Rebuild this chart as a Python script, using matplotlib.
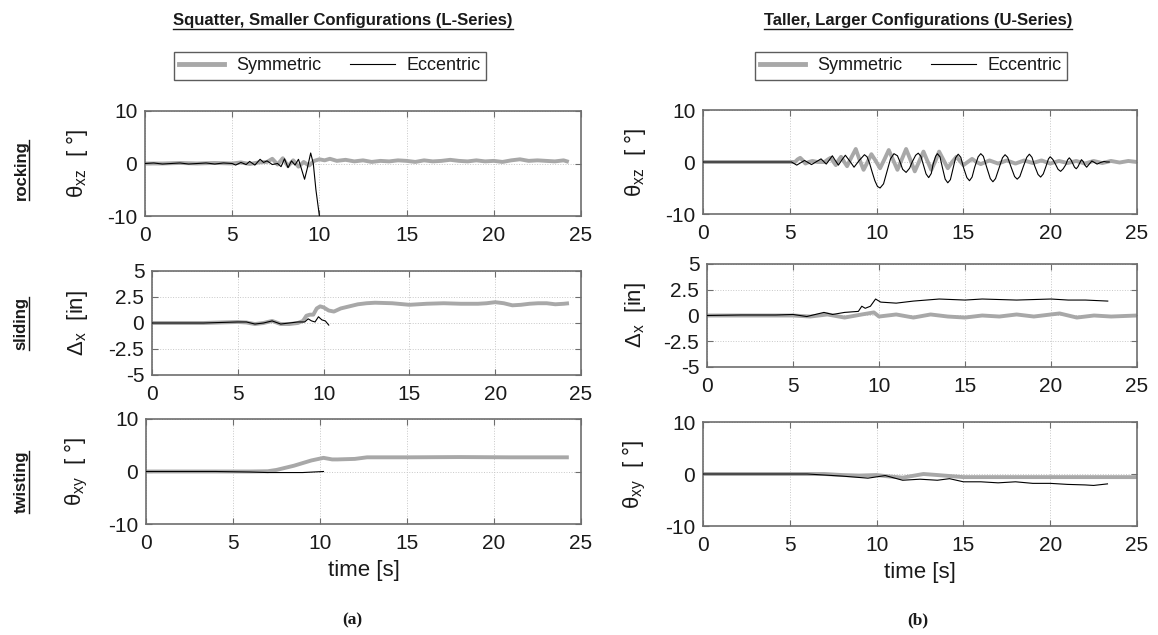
import matplotlib
matplotlib.use("Agg")
import matplotlib.pyplot as plt
from matplotlib.lines import Line2D

W, H = 1158, 635
plt.rcParams['font.family'] = ['Liberation Sans', 'DejaVu Sans']
plt.rcParams['mathtext.fontset'] = 'custom'
plt.rcParams['mathtext.rm'] = 'Liberation Sans'
plt.rcParams['mathtext.it'] = 'Liberation Sans:italic'
plt.rcParams['axes.unicode_minus'] = False

# ---------------- data ----------------
# Left column (L-Series), rocking
L_rock_sym_t = [0, 1, 2, 3, 4, 5, 5.5, 6, 6.5, 7, 7.3, 7.6, 7.9, 8.2, 8.5, 8.8, 9.1, 9.4, 9.7, 10.0,
                10.3, 10.6, 11, 11.5, 12, 12.5, 13, 13.5, 14, 14.5, 15, 15.5, 16, 16.5, 17, 17.5, 18,
                18.5, 19, 19.5, 20, 20.5, 21, 21.5, 22, 22.5, 23, 23.5, 24, 24.3]
L_rock_sym_v = [0, 0, 0.1, 0, 0.1, 0, 0.2, -0.1, 0.2, 0.3, 0.9, -0.2, 1.0, -0.5, 0.6, -0.6, 0.3, -0.4,
                0.5, 0.8, 0.6, 0.9, 0.5, 0.7, 0.4, 0.6, 0.3, 0.5, 0.4, 0.6, 0.5, 0.3, 0.6, 0.4, 0.5,
                0.7, 0.5, 0.4, 0.6, 0.4, 0.5, 0.3, 0.6, 0.8, 0.5, 0.6, 0.5, 0.4, 0.6, 0.3]
L_rock_ecc_t = [0, 0.5, 1, 1.5, 2, 2.5, 3, 3.5, 4, 4.5, 5, 5.2, 5.5, 5.8, 6.0, 6.3, 6.6, 6.8, 7.0, 7.3,
                7.6, 7.8, 8.0, 8.2, 8.4, 8.6, 8.8, 8.95, 9.15, 9.3, 9.5, 9.65, 9.8, 10.0, 10.1]
L_rock_ecc_v = [0, 0.1, -0.1, 0, 0.1, -0.1, 0, 0.1, -0.1, 0.1, 0, -0.3, 0.2, -0.2, 0.4, -0.3, 0.8, 0.2,
                0.5, -0.2, 0, -0.6, 0.9, -0.8, 0.5, -0.3, 0.8, -0.8, -3.0, -1.0, 2.0, 0.0, -5.0, -10.0, -11.0]

# Left column, sliding
L_slide_sym_t = [0, 1, 2, 3, 4, 5, 5.5, 6, 6.5, 7, 7.5, 8, 8.5, 8.8, 9.0, 9.2, 9.4, 9.6, 9.8, 10,
                 10.3, 10.6, 11, 11.5, 12, 12.5, 13, 14, 15, 15.5, 16, 17, 18, 19, 19.5, 20, 20.5,
                 21, 21.5, 22, 22.5, 23, 23.5, 24, 24.3]
L_slide_sym_v = [0, 0, 0, 0, 0.05, 0.1, 0.05, -0.1, 0, 0.2, -0.1, -0.1, 0, 0.2, 0.7, 0.8, 0.8, 1.4,
                 1.6, 1.5, 1.2, 1.1, 1.4, 1.6, 1.8, 1.9, 1.95, 1.9, 1.75, 1.8, 1.85, 1.9, 1.85, 1.85,
                 1.9, 2.0, 1.9, 1.7, 1.75, 1.85, 1.9, 1.9, 1.8, 1.85, 1.9]
L_slide_ecc_t = [0, 1, 2, 3, 4, 5, 5.5, 6, 6.5, 7, 7.5, 8, 8.5, 8.9, 9.1, 9.3, 9.5, 9.7, 9.9, 10.1, 10.3]
L_slide_ecc_v = [0, 0, 0, 0, 0.05, 0.1, 0.1, -0.1, 0, 0.2, -0.1, 0, 0.1, 0.1, 0.4, 0.2, 0.1, 0.6, 0.3, 0.2, -0.2]

# Left column, twisting
L_twist_sym_t = [0, 2, 4, 6, 7, 7.5, 8, 8.5, 9, 9.5, 10.2, 10.7, 11, 12, 12.7, 15, 18, 21, 24.3]
L_twist_sym_v = [0, 0, 0, 0, 0.05, 0.3, 0.7, 1.1, 1.6, 2.1, 2.6, 2.3, 2.3, 2.4, 2.7, 2.7, 2.75, 2.7, 2.7]
L_twist_ecc_t = [0, 2, 4, 6, 7, 8, 9, 10.2]
L_twist_ecc_v = [0, 0, 0, -0.1, -0.2, -0.2, -0.2, 0]

# Right column (U-Series), rocking
U_rock_sym_t = [0, 2, 4, 5.3, 5.45, 5.6, 5.75, 5.9, 6.1, 6.3, 6.6, 7.0, 7.2, 7.35, 7.5, 7.65, 7.8,
                7.95, 8.1, 8.3, 8.55, 8.8, 9.0, 9.25, 9.45, 9.7, 9.95, 10.2, 10.45, 10.7, 10.95,
                11.2, 11.45, 11.7, 11.95, 12.2, 12.45, 12.7, 12.9, 13.15, 13.4, 13.6, 13.85, 14.1,
                14.35, 14.6, 14.8, 15.0, 15.25, 15.5, 15.75, 16.0, 16.5, 17.0, 17.5, 18.0, 18.5,
                19.0, 19.5, 20.0, 20.5, 21.0, 21.5, 22.0, 22.5, 23.0, 23.5, 24.0, 24.5, 25.0]
U_rock_sym_v = [0, 0, 0, 0, 0.5, 0.8, 0.3, -0.3, 0, 0.2, 0, 0, 0.5, 0.8, 0.1, -0.6, 0.3,
                1.0, 0.2, -0.8, 0.9, 2.5, 0.6, -1.5, -0.2, 1.5, 0.2, -1.2, 0.5, 2.3, 0.4,
                -1.5, 0.5, 2.5, 0.4, -1.8, 0.1, 2.0, 0.4, -1.5, 0.3, 2.0, 0.4, -1.2,
                0, 1.0, 0.2, -0.6, 0, 0.6, 0, -0.4, 0.3, -0.3, 0.3, -0.3, 0.3,
                -0.2, 0.3, -0.3, 0.2, -0.2, 0.2, -0.3, 0.2, -0.2, 0.2, -0.1, 0.2, 0]
U_rock_ecc_t = [0, 2, 4, 5.1, 5.25, 5.4, 5.6, 5.85, 6.05, 6.25, 6.5, 6.8, 6.95, 7.1, 7.28, 7.45,
                7.62, 7.8, 8.0, 8.2, 8.45, 8.7, 9.0, 9.3, 9.45, 9.6, 9.75, 9.9, 10.05, 10.2, 10.4,
                10.6, 10.8, 11.0, 11.2, 11.35, 11.5, 11.7, 11.9, 12.05, 12.25, 12.4, 12.55, 12.7,
                12.85, 13.0, 13.15, 13.25, 13.4, 13.5, 13.65, 13.8, 13.95, 14.1, 14.25, 14.4,
                14.55, 14.7, 14.85, 15.0, 15.2, 15.35, 15.5, 15.65, 15.85, 16.0, 16.15, 16.35,
                16.55, 16.7, 16.85, 17.05, 17.25, 17.4, 17.55, 17.75, 17.95, 18.1, 18.25, 18.45,
                18.65, 18.8, 18.95, 19.1, 19.3, 19.45, 19.6, 19.75, 19.9, 20.0, 20.15, 20.3,
                20.45, 20.6, 20.75, 20.9, 21.0, 21.1, 21.2, 21.3, 21.4, 21.5, 21.6, 21.7, 21.8,
                21.9, 22.0, 22.1, 22.25, 22.4, 22.55, 22.7, 22.9, 23.1, 23.25, 23.4]
U_rock_ecc_v = [0, 0, 0, 0, -0.3, -0.6, -0.2, 0.3, -0.1, -0.5, 0.0, 0.6, 0.1, -0.4, 0.4, 1.2,
                0.3, -0.6, 0.4, 1.3, 0.2, -1.0, 0.3, 1.4, 1.0, -0.3, -2.0, -3.6, -4.7, -5.0, -4.2,
                -1.8, 0.6, 1.6, 1.2, 0.0, -1.4, -2.0, -1.2, 0.0, 1.3, 1.7, 1.1, -0.6,
                -2.3, -3.0, -2.2, -0.5, 1.1, 1.6, 1.0, -1.2, -3.3, -4.0, -3.4, -1.3,
                0.8, 1.5, 0.9, -1.0, -3.0, -3.6, -2.9, -1.0, 1.0, 1.6, 1.1, -1.1,
                -3.2, -3.8, -3.2, -1.2, 0.8, 1.4, 0.9, -1.0, -2.8, -3.3, -2.8, -0.9,
                0.9, 1.5, 0.9, -0.7, -2.4, -2.9, -2.3, -0.9, 0.6, 1.0, 0.5, -0.4,
                -1.4, -1.8, -1.3, -0.5, 0.4, 0.8, 0.4, -0.3, -1.0, -1.3, -0.9, -0.2, 0.45,
                0.1, -0.6, -1.0, -0.4, 0.2, -0.1, -0.4, -0.1, 0.1, 0.0, 0.0]

# Right column, sliding
U_slide_sym_t = [0, 2, 4, 5, 6, 7, 8, 9, 9.7, 10, 11, 12, 13, 14, 15, 16, 17, 18, 19, 20, 20.5, 21.5,
                 22.5, 23.5, 25]
U_slide_sym_v = [0, 0, 0, 0, -0.1, 0.1, -0.2, 0.1, 0.3, -0.1, 0.1, -0.2, 0.1, -0.1, -0.2, 0, -0.1,
                 0.1, -0.1, 0.1, 0.2, -0.2, 0, -0.1, 0]
U_slide_ecc_t = [0, 2, 4, 5, 5.8, 6.8, 7.3, 8, 8.8, 9.0, 9.2, 9.5, 9.8, 10.1, 11, 12, 13.5, 15, 16,
                 18, 20, 21, 22, 23.3]
U_slide_ecc_v = [0, 0.05, 0.05, 0.1, -0.1, 0.3, 0.1, 0.3, 0.4, 0.9, 0.7, 0.9, 1.6, 1.3, 1.2, 1.4,
                 1.6, 1.5, 1.6, 1.5, 1.6, 1.5, 1.5, 1.4]

# Right column, twisting
U_twist_sym_t = [0, 2, 4, 6, 7, 8, 9, 10, 10.5, 11.5, 12.7, 13.5, 15, 20, 25]
U_twist_sym_v = [0, 0, 0, 0, 0, -0.2, -0.3, -0.2, -0.4, -0.7, 0, -0.2, -0.6, -0.6, -0.6]
U_twist_ecc_t = [0, 2, 4, 6, 8, 9.5, 10.5, 11.5, 12.5, 13.5, 14.2, 15, 16, 17, 18, 19, 20, 21, 22,
                 22.5, 23.3]
U_twist_ecc_v = [0, 0, 0, 0, -0.4, -0.8, -0.3, -1.2, -1.0, -1.2, -0.9, -1.5, -1.5, -1.7, -1.5, -1.8,
                 -1.8, -2.0, -2.1, -2.2, -1.9]

x_ticks = [0, 5, 10, 15, 20, 25]
angle_ticks = [-10, 0, 10]
slide_ticks = [-5, -2.5, 0, 2.5, 5]
slide_ticklabels = ['-5', '-2.5', '0', '2.5', '5']
series_labels = ['Symmetric', 'Eccentric']
row_labels = ['rocking', 'sliding', 'twisting']
col_titles = ['Squatter, Smaller Configurations (L-Series)', 'Taller, Larger Configurations (U-Series)']
captions = ['(a)', '(b)']

# ---------------- layout (pixels) ----------------
def px_axes(fig, x0, y0, x1, y1):
    return fig.add_axes([x0 / W, 1 - y1 / H, (x1 - x0) / W, (y1 - y0) / H])

fig = plt.figure(figsize=(W / 100, H / 100), dpi=100)
fig.patch.set_facecolor('white')

boxes = {
    ('L', 0): (145, 111, 581, 216),
    ('L', 1): (152, 271, 581, 375),
    ('L', 2): (146, 419, 581, 524),
    ('U', 0): (703, 110, 1137, 214),
    ('U', 1): (707, 264, 1137, 367),
    ('U', 2): (703, 422, 1137, 526),
}

data = {
    ('L', 0): (L_rock_sym_t, L_rock_sym_v, L_rock_ecc_t, L_rock_ecc_v),
    ('L', 1): (L_slide_sym_t, L_slide_sym_v, L_slide_ecc_t, L_slide_ecc_v),
    ('L', 2): (L_twist_sym_t, L_twist_sym_v, L_twist_ecc_t, L_twist_ecc_v),
    ('U', 0): (U_rock_sym_t, U_rock_sym_v, U_rock_ecc_t, U_rock_ecc_v),
    ('U', 1): (U_slide_sym_t, U_slide_sym_v, U_slide_ecc_t, U_slide_ecc_v),
    ('U', 2): (U_twist_sym_t, U_twist_sym_v, U_twist_ecc_t, U_twist_ecc_v),
}

ylabels = [r'θ$_{\mathrm{xz}}$  [ °]', r'Δ$_{\mathrm{x}}$  [in]', r'θ$_{\mathrm{xy}}$  [ °]']
ylabel_x = {'L': 90, 'U': 648}

GRAY = '#a8a8a8'
SPINE = '#6e6e6e'
TXT = '#1a1a1a'
FS = 15

axes = {}
for key, (x0, y0, x1, y1) in boxes.items():
    col, row = key
    ax = px_axes(fig, x0, y0, x1, y1)
    axes[key] = ax
    st, sv, et, ev = data[key]
    ax.plot(st, sv, color=GRAY, lw=2.8, solid_capstyle='butt', zorder=2)
    ax.plot(et, ev, color='black', lw=0.8, zorder=3)
    ax.set_xlim(0, 25)
    ax.set_xticks(x_ticks)
    if row == 1:
        ax.set_ylim(-5, 5)
        ax.set_yticks(slide_ticks)
        ax.set_yticklabels(slide_ticklabels)
    else:
        ax.set_ylim(-10, 10)
        ax.set_yticks(angle_ticks)
    ax.grid(True, color='#c8c8c8', ls=':', lw=0.7, zorder=0)
    ax.tick_params(direction='in', length=4, width=0.8, color=SPINE, labelsize=FS,
                   labelcolor=TXT, top=True, right=True)
    ax.tick_params(axis='x', pad=7)
    ax.tick_params(axis='y', pad=5.5)
    for s in ax.spines.values():
        s.set_color(SPINE)
        s.set_linewidth(1.2)
    ax.set_ylabel(ylabels[row], fontsize=16, color=TXT)
    ax.yaxis.set_label_coords((ylabel_x[col] - x0) / (x1 - x0), 0.5)
    if row == 2:
        ax.set_xlabel('time [s]', fontsize=16, color=TXT, labelpad=5)

# legends
legend_centers = {'L': (330, 66), 'U': (911, 66)}
for col in ['L', 'U']:
    handles = [Line2D([], [], color=GRAY, lw=3.5), Line2D([], [], color='black', lw=0.8)]
    cx, cy = legend_centers[col]
    leg = fig.legend(handles, series_labels, ncol=2, loc='center',
                     bbox_to_anchor=(cx / W, 1 - cy / H), bbox_transform=fig.transFigure,
                     fontsize=13, frameon=True, fancybox=False, handlelength=2.5,
                     columnspacing=1.6, handletextpad=0.65, borderpad=0.3, borderaxespad=0)
    leg.get_frame().set_edgecolor('#333333')
    leg.get_frame().set_linewidth(1.0)
    for t in leg.get_texts():
        t.set_color(TXT)

# titles
title_centers = [(343, 21), (918, 21)]
title_texts = []
for (cx, cy), s in zip(title_centers, col_titles):
    t = fig.text(cx / W, 1 - cy / H, s, ha='center', va='center', fontsize=12,
                 fontweight='bold', color=TXT)
    title_texts.append(t)

# row labels
row_centers = [170, 323, 482]
row_texts = []
for cy, s in zip(row_centers, row_labels):
    t = fig.text(21 / W, 1 - cy / H, s, ha='center', va='center', rotation=90, fontsize=12,
                 fontweight='bold', color=TXT)
    row_texts.append(t)

# captions
for cx, s in zip([352, 918], captions):
    fig.text(cx / W, 1 - 620 / H, s, ha='center', va='center', fontsize=12.5,
             fontweight='bold', family=['Liberation Serif', 'DejaVu Serif'], color=TXT)

# underlines
fig.canvas.draw()
renderer = fig.canvas.get_renderer()
for t in title_texts:
    bb = t.get_window_extent(renderer)
    fig.add_artist(Line2D([bb.x0 / W, bb.x1 / W], [(bb.y0 - 0.5) / H] * 2,
                          transform=fig.transFigure, color=TXT, lw=1.0))
for t in row_texts:
    bb = t.get_window_extent(renderer)
    fig.add_artist(Line2D([(bb.x1 + 0.5) / W] * 2, [bb.y0 / H, bb.y1 / H],
                          transform=fig.transFigure, color=TXT, lw=1.0))

fig.savefig('out.png', dpi=100, facecolor='white')
